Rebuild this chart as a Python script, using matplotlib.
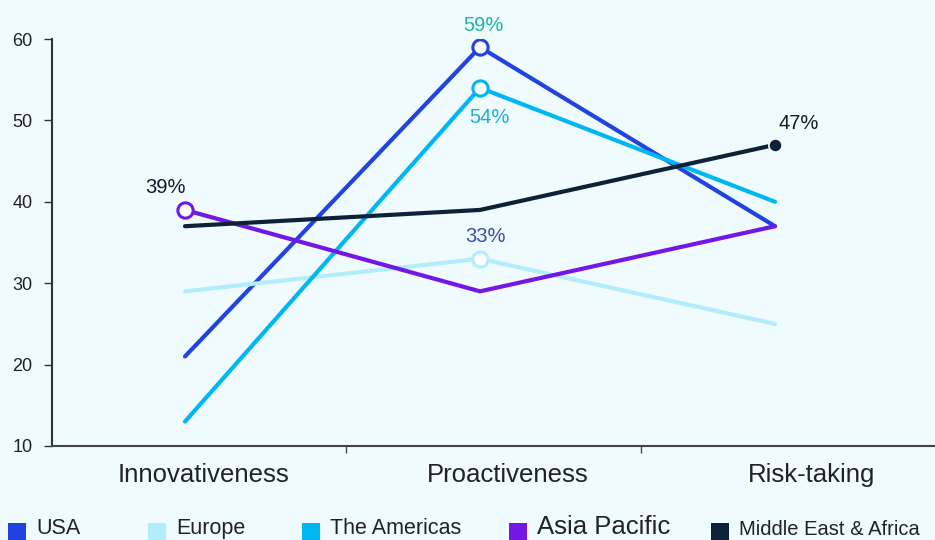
import matplotlib.pyplot as plt
from matplotlib.patches import Rectangle

plt.rcParams['font.family'] = ['Liberation Sans', 'DejaVu Sans']

categories = ["Innovativeness", "Proactiveness", "Risk-taking"]
usa = [21, 59, 37]
europe = [29, 33, 25]
americas = [13, 54, 40]
asia_pacific = [39, 29, 37]
mea = [37, 39, 47]

series_names = ["USA", "Europe", "The Americas", "Asia Pacific", "Middle East & Africa"]
series_values = [usa, europe, americas, asia_pacific, mea]
colors = ["#2144e0", "#b3ecfc", "#00b7f1", "#7417e4", "#0d2238"]

bg = "#effbfe"

fig = plt.figure(figsize=(9.35, 5.4), dpi=100, facecolor=bg)
ax = fig.add_axes([52 / 935, 94 / 540, 1 - 52 / 935, 407 / 540])
ax.set_facecolor(bg)

x = list(range(len(categories)))
for vals, c in zip(series_values, colors):
    ax.plot(x, vals, color=c, lw=3.0, solid_capstyle='round', solid_joinstyle='round', zorder=2)

# highlighted points: (series index, category index, label colour, text offset in px)
highlights = [
    (3, 0, "#14182c", (-20, 22)),
    (0, 1, "#1ab3a4", (3, 22)),
    (2, 1, "#1ab0d4", (9, -30)),
    (1, 1, "#3b4ca9", (5, 22)),
]
for si, ci, tc, (dx, dy) in highlights:
    v = series_values[si][ci]
    ax.plot(ci, v, 'o', ms=11, mfc='white', mec=colors[si], mew=2.2, zorder=4)
    ax.annotate(f"{v}%", (ci, v), xytext=(dx * 0.72, dy * 0.72), textcoords='offset points',
                ha='center', va='center', fontsize=14.5, color=tc, zorder=5)

# Middle East & Africa end point
ax.plot(2, mea[2], 'o', ms=9.5, mfc=colors[4], mec='white', mew=1.2, zorder=4)
ax.annotate(f"{mea[2]}%", (2, mea[2]), xytext=(24 * 0.72, 21 * 0.72), textcoords='offset points',
            ha='center', va='center', fontsize=14.5, color="#14182c", zorder=5)

ax.set_ylim(10, 60)
ax.set_yticks([10, 20, 30, 40, 50, 60])
ax.set_xlim((52 - 185) / 295, (935 - 185) / 295)

ax.set_xticks([(346 - 185) / 295, (641 - 185) / 295])
ax.set_xticklabels([])
ax.set_xticks([(204 - 185) / 295, (508 - 185) / 295, (812 - 185) / 295], minor=True)
ax.set_xticklabels(categories, minor=True)
ax.tick_params(axis='x', which='minor', length=0, pad=12, labelsize=18.5, labelcolor='#222222')
ax.tick_params(axis='x', which='major', length=5, width=1, color='#444444', direction='out')
ax.tick_params(axis='y', length=6, width=1, color='#333333', labelsize=13, labelcolor='#222222', pad=8)

for s in ['top', 'right']:
    ax.spines[s].set_visible(False)
ax.spines['left'].set_color('#333333')
ax.spines['bottom'].set_color('#444444')
ax.spines['left'].set_linewidth(1.5)
ax.spines['bottom'].set_linewidth(1.5)

# legend drawn by hand along the bottom edge
leg_x = [8, 148, 302, 509, 711]
leg_size = [15.5, 15.5, 15.5, 18.5, 14.5]
for name, c, lx, fs in zip(series_names, colors, leg_x, leg_size):
    fig.patches.append(Rectangle((lx / 935, 0), 18 / 935, 17 / 540, transform=fig.transFigure,
                                 facecolor=c, edgecolor='none'))
    fig.text((lx + 28) / 935, 1 / 540, name, fontsize=fs, color='#222222', va='bottom', ha='left')

fig.savefig("out.png", dpi=100, facecolor=bg)
